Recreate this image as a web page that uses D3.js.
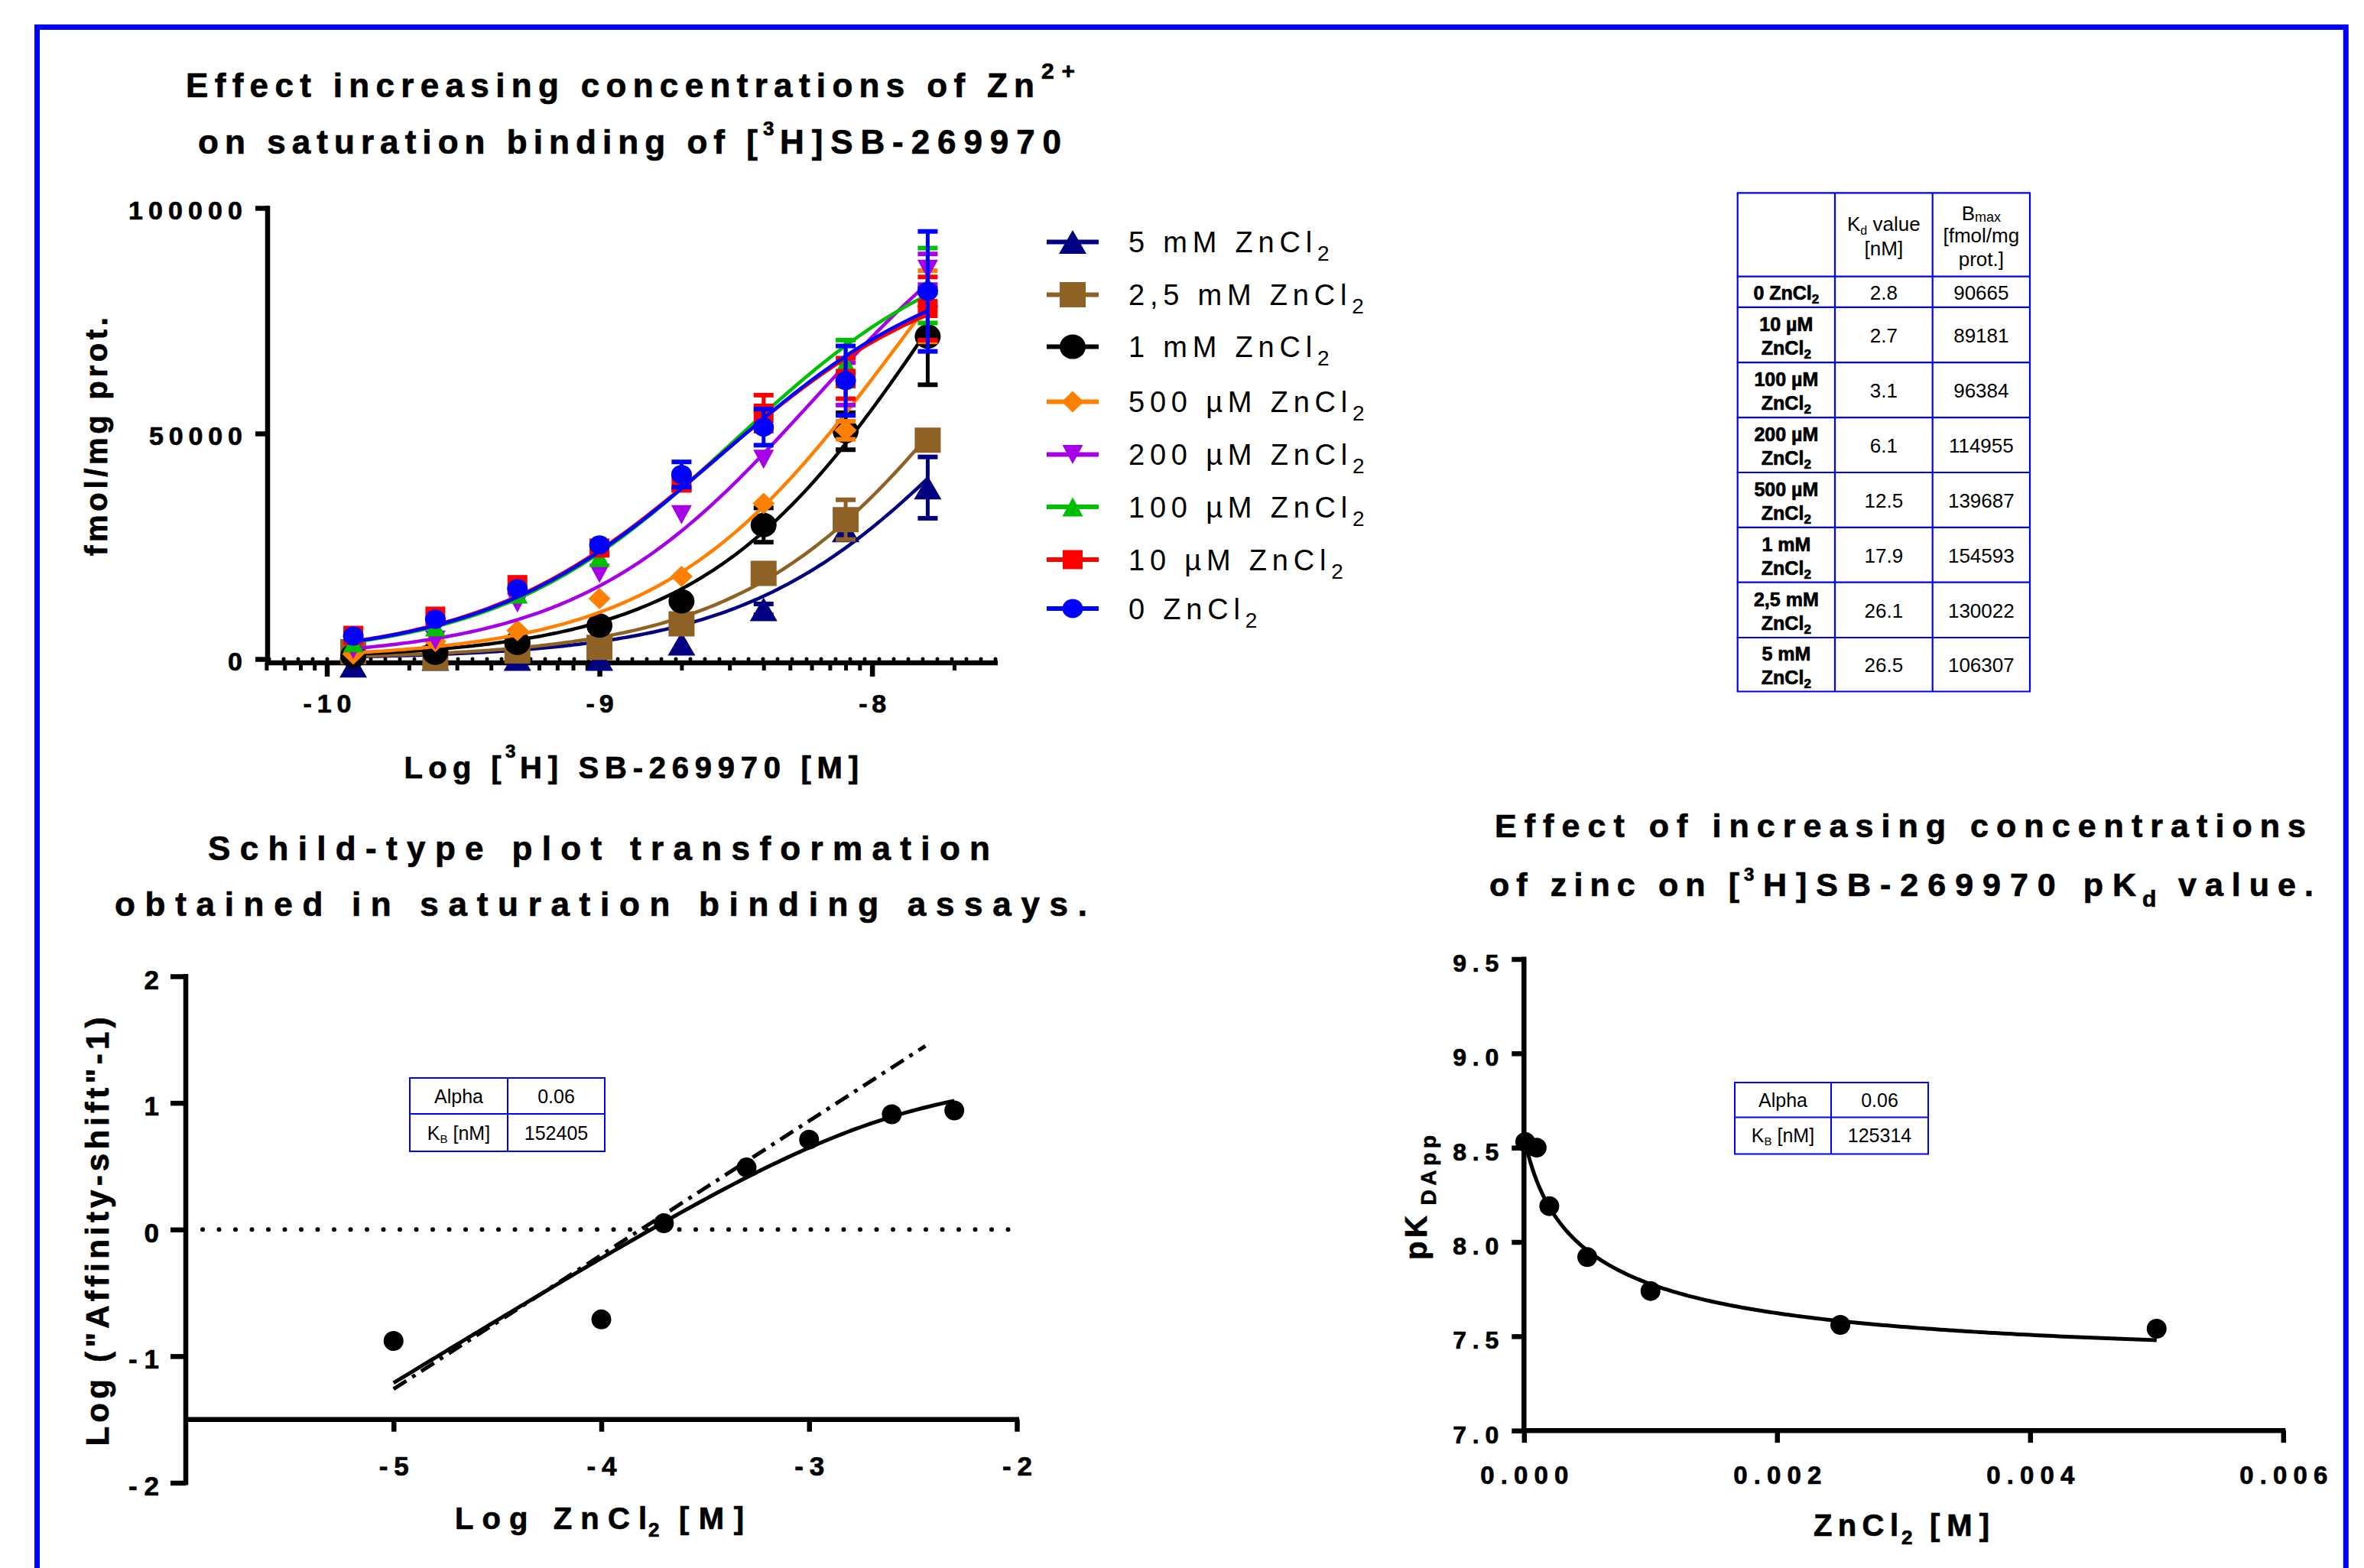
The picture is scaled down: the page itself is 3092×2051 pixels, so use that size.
<!DOCTYPE html>
<html><head><meta charset="utf-8">
<script src="https://cdn.jsdelivr.net/npm/d3@7"></script>
<style>
html,body{margin:0;padding:0;background:#fff;}
svg{display:block;}
text{font-family:"Liberation Sans",Arial,Helvetica,sans-serif;fill:#000;}
text[font-weight="bold"], g[font-weight="bold"] text{stroke:#000;stroke-width:0.7px;}
</style></head><body>
<svg id="chart" width="3092" height="2051"></svg>
<script>
// ================= DATA =================
// Panel 1: saturation binding, x = [3H]SB-269970 concentration (nM)
const ligandNM = [0.125, 0.25, 0.5, 1, 2, 4, 8, 16];
const zn5mM      = [-1500, 0, 0, 0, 3400, 11000, 28500, 38000];
const zn5mMErr   = [0, 0, 0, 0, 0, 1200, 0, 6800];
const zn2p5mM    = [1600, 200, 1800, 2600, 7800, 19000, 30900, 48500];
const zn2p5mMErr = [0, 0, 0, 0, 0, 0, 4400, 0];
const zn1mM      = [700, 1400, 3600, 7400, 12800, 29700, 50500, 71500];
const zn1mMErr   = [0, 0, 0, 0, 0, 3800, 4100, 10700];
const zn500uM    = [1100, 3900, 6300, 13400, 18300, 34500, 50700, 78200];
const zn500uMErr = [0, 0, 0, 0, 0, 0, 2000, 7900];
const zn200uM    = [2100, 4200, 12400, 19000, 32000, 44300, 61000, 86400];
const zn200uMErr = [0, 0, 0, 0, 0, 0, 4700, 3400];
const zn100uM    = [3600, 7100, 14400, 22500, 40000, 54500, 65600, 82800];
const zn100uMErr = [0, 0, 0, 0, 0, 0, 5100, 8300];
const zn10uM     = [5250, 9500, 16500, 24600, 39000, 54500, 62200, 77700];
const zn10uMErr  = [0, 0, 0, 0, 1500, 4000, 4500, 7000];
const zn0        = [5100, 8800, 15600, 25300, 40900, 51400, 61700, 81500];
const zn0Err     = [0, 0, 0, 0, 2800, 4000, 7700, 13300];
const seriesLabels = ["5 mM ZnCl", "2,5 mM ZnCl", "1 mM ZnCl", "500 µM ZnCl", "200 µM ZnCl", "100 µM ZnCl", "10 µM ZnCl", "0 ZnCl"];
const p1YTicks = [0, 50000, 100000];
const p1YTickLabels = ["0", "50000", "100000"];
const p1XTicks = [1e-10, 1e-9, 1e-8];
const p1XTickLabels = ["-10", "-9", "-8"];

// Table (top right)
const tableConc = ["0", "10 µM", "100 µM", "200 µM", "500 µM", "1 mM", "2,5 mM", "5 mM"];
const kdValues = ["2.8", "2.7", "3.1", "6.1", "12.5", "17.9", "26.1", "26.5"];
const bmaxValues = ["90665", "89181", "96384", "114955", "139687", "154593", "130022", "106307"];

// Panel 2: Schild-type plot
const schildConcM = [1e-5, 1e-4, 2e-4, 5e-4, 1e-3, 2.5e-3, 5e-3];
const schildY = [-0.88, -0.71, 0.05, 0.49, 0.71, 0.91, 0.94];
const schildRefX = [-5, -2.44];
const schildRefY = [-1.26, 1.45];
const schildAlpha = "0.06", schildKB = "152405";
const schildXTicks = [-5, -4, -3, -2];
const schildXTickLabels = ["-5", "-4", "-3", "-2"];
const schildYTicks = [-2, -1, 0, 1, 2];
const schildYTickLabels = ["-2", "-1", "0", "1", "2"];

// Panel 3: pKd app vs ZnCl2
const pkConcM = [0.00001, 0.0001, 0.0002, 0.0005, 0.001, 0.0025, 0.005];
const pkY = [8.53, 8.50, 8.19, 7.92, 7.74, 7.56, 7.54];
const pk0 = 8.56;
const pkAlpha = "0.06", pkKB = "125314";
const pkXTicks = [0, 0.002, 0.004, 0.006];
const pkXTickLabels = ["0.000", "0.002", "0.004", "0.006"];
const pkYTicks = [7, 7.5, 8, 8.5, 9, 9.5];
const pkYTickLabels = ["7.0", "7.5", "8.0", "8.5", "9.0", "9.5"];

// ================= STYLES =================
const seriesColors = ["#000080", "#8E6125", "#000000", "#FF8000", "#A600E6", "#00BE00", "#FF0000", "#0000FF"];
const seriesShapes = ["triUp", "square", "circle", "diamond", "triDown", "triUp", "square", "circle"];
const seriesSizes = [[36,31],[34,33],[34,32],[29,28],[27,25],[27,25],[26,25],[27,25]];
const legendRowY = [316.5, 385.6, 453.6, 525.6, 594.5, 663, 732, 796];
const FONT = "'Liberation Sans', Arial, Helvetica, sans-serif";
const BLUE = "#0000FF";
const AXW = 6.5;

const svg = d3.select("#chart");
svg.append("rect").attr("width", 3092).attr("height", 2051).attr("fill", "#fff");
svg.append("rect").attr("x", 48.5).attr("y", 35.5).attr("width", 3019.8).attr("height", 2100)
  .attr("fill", "none").attr("stroke", BLUE).attr("stroke-width", 7);

function label(g, str, x, y, o = {}) {
  const t = g.append("text").attr("x", x).attr("y", y).text(str)
    .attr("font-size", o.size || 40).attr("font-weight", o.bold === false ? "normal" : "bold")
    .attr("text-anchor", o.anchor || "start");
  if (o.len) t.attr("textLength", o.len).attr("lengthAdjust", "spacing");
  if (o.ls) t.attr("letter-spacing", o.ls);
  if (o.rotate) t.attr("transform", `rotate(${o.rotate},${x},${y})`);
  return t;
}
function shapePath(type, w, h) {
  switch (type) {
    case "triUp": return `M0,${-h/2}L${w/2},${h/2}L${-w/2},${h/2}Z`;
    case "triDown": return `M0,${h/2}L${w/2},${-h/2}L${-w/2},${-h/2}Z`;
    case "square": return `M${-w/2},${-h/2}H${w/2}V${h/2}H${-w/2}Z`;
    case "diamond": return `M0,${-h/2}L${w/2},0L0,${h/2}L${-w/2},0Z`;
    default: return `M${-w/2},0A${w/2},${h/2} 0 1,0 ${w/2},0A${w/2},${h/2} 0 1,0 ${-w/2},0Z`;
  }
}
function styleAxis(g, fs) {
  g.attr("font-family", FONT).attr("font-size", fs).attr("font-weight", "bold");
  g.select(".domain").remove();
  g.selectAll(".tick line").attr("stroke", "#000").attr("stroke-width", AXW);
  g.selectAll(".tick text").attr("fill", "#000");
}
function axisLine(g, x1, y1, x2, y2) {
  g.append("line").attr("x1", x1).attr("y1", y1).attr("x2", x2).attr("y2", y2)
    .attr("stroke", "#000").attr("stroke-width", AXW);
}

// ================= PANEL 1 =================
const p1 = svg.append("g");
const x1 = d3.scaleLog().domain([Math.pow(10, -10.2174), Math.pow(10, -7.539)]).range([350, 1305]);
const y1 = d3.scaleLinear().domain([0, 100000]).range([862, 272]);

label(p1, "Effect increasing concentrations of Zn", 243, 127, {size: 44, len: 1110});
label(p1, "2+", 1362, 103, {size: 30, len: 44});
label(p1, "on saturation binding of [", 259, 201, {size: 44, len: 732});
label(p1, "3", 998, 177, {size: 26});
label(p1, "H]SB-269970", 1020, 201, {size: 44, len: 368});

// minor ticks
const minors = [];
for (const p of [-11, -10, -9, -8]) for (let k = 2; k <= 9; k++) {
  const v = k * Math.pow(10, p);
  if (Math.log10(v) >= -10.23 && Math.log10(v) <= -7.539) minors.push(v);
}
const gxm = p1.append("g").attr("transform", "translate(0,867)")
  .call(d3.axisBottom(x1).tickValues(minors).tickSize(10).tickFormat(""));
styleAxis(gxm, 34);
gxm.selectAll(".tick line").attr("stroke-width", 5);
const gx1 = p1.append("g").attr("transform", "translate(0,867)")
  .call(d3.axisBottom(x1).tickValues(p1XTicks).tickSize(18).tickFormat((d, i) => p1XTickLabels[i]));
styleAxis(gx1, 34);
gx1.selectAll(".tick text").attr("y", 65).attr("dy", 0)
  .attr("textLength", (d, i) => i === 0 ? 63 : 36).attr("lengthAdjust", "spacing");
const gy1 = p1.append("g").attr("transform", "translate(350,0)")
  .call(d3.axisLeft(y1).tickValues(p1YTicks).tickSize(16).tickPadding(17).tickFormat((d, i) => p1YTickLabels[i]));
styleAxis(gy1, 34);
gy1.selectAll(".tick text").attr("dy", 14)
  .attr("textLength", (d, i) => [null, 122, 149][i]).attr("lengthAdjust", "spacing");
gy1.selectAll(".tick text").filter((d, i) => i === 0).attr("textLength", null);
axisLine(p1, 350, 269, 350, 870);
axisLine(p1, 347, 867, 1305, 867);
p1.append("line").attr("x1", 352).attr("x2", 1305).attr("y1", y1(0)).attr("y2", y1(0))
  .attr("stroke", "#000").attr("stroke-width", 5).attr("stroke-dasharray", "0 19").attr("stroke-linecap", "round");

label(p1, "fmol/mg prot.", 140, 571, {size: 40, len: 312, anchor: "middle", rotate: -90});
label(p1, "Log [", 528.6, 1018, {size: 40, len: 127});
label(p1, "3", 661, 991, {size: 24});
label(p1, "H] SB-269970  [M]", 680, 1018, {size: 40, len: 443});

const p1Values = [zn5mM, zn2p5mM, zn1mM, zn500uM, zn200uM, zn100uM, zn10uM, zn0];
const p1Errors = [zn5mMErr, zn2p5mMErr, zn1mMErr, zn500uMErr, zn200uMErr, zn100uMErr, zn10uMErr, zn0Err];
const lineGen = d3.line().x(d => x1(d[0] * 1e-9)).y(d => y1(d[1]));
p1Values.forEach((vals, s) => {
  const col = seriesColors[s];
  const kd = +kdValues[7 - s], bmax = +bmaxValues[7 - s];
  const curve = d3.range(0, 141).map(i => {
    const L = ligandNM[0] * Math.pow(ligandNM[7] / ligandNM[0], i / 140);
    return [L, bmax * L / (kd + L)];
  });
  const g = p1.append("g");
  g.append("path").attr("d", lineGen(curve)).attr("fill", "none").attr("stroke", col).attr("stroke-width", 4.5);
  vals.forEach((v, i) => {
    const e = p1Errors[s][i];
    if (e > 0) {
      const cx = x1(ligandNM[i] * 1e-9);
      g.append("line").attr("x1", cx).attr("x2", cx).attr("y1", y1(v - e)).attr("y2", y1(v + e))
        .attr("stroke", col).attr("stroke-width", 5);
      [v - e, v + e].forEach(yv => g.append("line").attr("x1", cx - 13).attr("x2", cx + 13)
        .attr("y1", y1(yv)).attr("y2", y1(yv)).attr("stroke", col).attr("stroke-width", 6));
    }
  });
  g.selectAll("path.m").data(vals).enter().append("path").attr("class", "m")
    .attr("transform", (v, i) => `translate(${x1(ligandNM[i] * 1e-9)},${y1(v)})`)
    .attr("d", shapePath(seriesShapes[s], seriesSizes[s][0], seriesSizes[s][1]))
    .attr("fill", col);
});

// legend
const lg = svg.append("g");
seriesLabels.forEach((lab, s) => {
  const y = legendRowY[s];
  lg.append("line").attr("x1", 1369).attr("x2", 1437).attr("y1", y).attr("y2", y)
    .attr("stroke", seriesColors[s]).attr("stroke-width", 6);
  lg.append("path").attr("transform", `translate(1403,${y})`)
    .attr("d", shapePath(seriesShapes[s], seriesSizes[s][0], seriesSizes[s][1])).attr("fill", seriesColors[s]);
  const t = lg.append("text").attr("x", 1476).attr("y", y + 13.5).attr("font-size", 38)
    .attr("letter-spacing", 6.8);
  t.append("tspan").text(lab);
  t.append("tspan").attr("font-size", 28).attr("dy", 11).text("2");
});

// ================= TABLE (top right) =================
const tb = svg.append("g");
const tCols = [2272.7, 2400, 2527.7, 2655];
const tRows = [252.3, 361.7, 401.9, 474.2, 546.1, 618, 689.8, 761.7, 834, 904.5];
tRows.forEach(y => tb.append("line").attr("x1", tCols[0] - 1).attr("x2", tCols[3] + 1).attr("y1", y).attr("y2", y)
  .attr("stroke", BLUE).attr("stroke-width", 2.2));
tCols.forEach(x => tb.append("line").attr("x1", x).attr("x2", x).attr("y1", tRows[0]).attr("y2", tRows[9])
  .attr("stroke", BLUE).attr("stroke-width", 2.2));
const c1 = (tCols[0] + tCols[1]) / 2, c2 = (tCols[1] + tCols[2]) / 2, c3 = (tCols[2] + tCols[3]) / 2;
{
  const t = tb.append("text").attr("x", c2).attr("y", 302).attr("font-size", 26).attr("text-anchor", "middle");
  t.append("tspan").text("K");
  t.append("tspan").attr("font-size", 16).attr("dy", 5).text("d");
  t.append("tspan").attr("dy", -5).text(" value");
  label(tb, "[nM]", c2, 334, {size: 26, bold: false, anchor: "middle"});
  const b = tb.append("text").attr("x", c3).attr("y", 288).attr("font-size", 26).attr("text-anchor", "middle");
  b.append("tspan").text("B");
  b.append("tspan").attr("font-size", 18).attr("dy", 2).text("max");
  label(tb, "[fmol/mg", c3, 317, {size: 26, bold: false, anchor: "middle"});
  label(tb, "prot.]", c3, 348, {size: 26, bold: false, anchor: "middle"});
}
tableConc.forEach((conc, r) => {
  const cy = (tRows[r + 1] + tRows[r + 2]) / 2;
  if (r === 0) {
    const t = tb.append("text").attr("x", c1).attr("y", cy + 9.7).attr("font-size", 25)
      .attr("font-weight", "bold").attr("text-anchor", "middle");
    t.append("tspan").text(conc + " ZnCl");
    t.append("tspan").attr("font-size", 17).attr("dy", 5).text("2");
  } else {
    label(tb, conc, c1, cy - 5, {size: 25, anchor: "middle"});
    const t = tb.append("text").attr("x", c1).attr("y", cy + 26).attr("font-size", 25)
      .attr("font-weight", "bold").attr("text-anchor", "middle");
    t.append("tspan").text("ZnCl");
    t.append("tspan").attr("font-size", 17).attr("dy", 5).text("2");
  }
  label(tb, kdValues[r], c2, cy + 10, {size: 26, bold: false, anchor: "middle"});
  label(tb, bmaxValues[r], c3, cy + 10, {size: 26, bold: false, anchor: "middle"});
});

// inset table helper
function insetTable(g, cols, rows, alpha, kb) {
  rows.forEach(y => g.append("line").attr("x1", cols[0] - 1).attr("x2", cols[2] + 1).attr("y1", y).attr("y2", y)
    .attr("stroke", BLUE).attr("stroke-width", 2));
  cols.forEach(x => g.append("line").attr("x1", x).attr("x2", x).attr("y1", rows[0]).attr("y2", rows[2])
    .attr("stroke", BLUE).attr("stroke-width", 2));
  const a = (cols[0] + cols[1]) / 2, b = (cols[1] + cols[2]) / 2;
  const r0 = (rows[0] + rows[1]) / 2 + 9, r1 = (rows[1] + rows[2]) / 2 + 9;
  label(g, "Alpha", a, r0, {size: 25, bold: false, anchor: "middle"});
  label(g, alpha, b, r0, {size: 25, bold: false, anchor: "middle"});
  const t = g.append("text").attr("x", a).attr("y", r1).attr("font-size", 25).attr("text-anchor", "middle");
  t.append("tspan").text("K");
  t.append("tspan").attr("font-size", 15).attr("dy", 4).text("B");
  t.append("tspan").attr("dy", -4).text(" [nM]");
  label(g, kb, b, r1, {size: 25, bold: false, anchor: "middle"});
}

// ================= PANEL 2: Schild =================
const p2 = svg.append("g");
const xs = d3.scaleLinear().domain([-6, -2]).range([243, 1330]);
const ys = d3.scaleLinear().domain([-2, 2]).range([1939.5, 1277]);
label(p2, "Schild-type plot transformation", 272, 1125, {size: 44, len: 1023});
label(p2, "obtained in saturation binding assays.", 150, 1198, {size: 44, len: 1272});
const gx2 = p2.append("g").attr("transform", `translate(0,${ys(-1.5)})`)
  .call(d3.axisBottom(xs).tickValues(schildXTicks).tickSize(16).tickFormat((d, i) => schildXTickLabels[i]));
styleAxis(gx2, 35);
gx2.selectAll(".tick text").attr("y", 1930 - ys(-1.5)).attr("dy", 0).attr("textLength", 39).attr("lengthAdjust", "spacing");
const gy2 = p2.append("g").attr("transform", "translate(243,0)")
  .call(d3.axisLeft(ys).tickValues(schildYTicks).tickSize(20).tickPadding(15).tickFormat((d, i) => schildYTickLabels[i]));
styleAxis(gy2, 35);
gy2.selectAll(".tick text").attr("dy", 16);
gy2.selectAll(".tick text").filter(d => d < 0).attr("textLength", 40).attr("lengthAdjust", "spacing");
axisLine(p2, 243, 1274, 243, 1942.5);
axisLine(p2, 240, ys(-1.5), 1333, ys(-1.5));
p2.append("line").attr("x1", 265).attr("x2", 1330).attr("y1", ys(0)).attr("y2", ys(0))
  .attr("stroke", "#000").attr("stroke-width", 6).attr("stroke-dasharray", "0 21.5").attr("stroke-linecap", "round");
label(p2, 'Log ("Affinity-shift"-1)', 142, 1611, {size: 42, len: 561, anchor: "middle", rotate: -90});
label(p2, "Log ZnCl", 595, 2000, {size: 40, len: 251});
label(p2, "2", 848, 2010, {size: 26});
label(p2, "[M]", 888, 2000, {size: 40, len: 85});
// reference (dash-dot) line
p2.append("path").attr("d", d3.line().x(d => xs(d[0])).y(d => ys(d[1]))(schildRefX.map((x, i) => [x, schildRefY[i]])))
  .attr("fill", "none").attr("stroke", "#000").attr("stroke-width", 5).attr("stroke-dasharray", "20 9 5 9");
// fitted curve (allosteric model using inset alpha and KB)
{
  const a = +schildAlpha, kbM = +schildKB * 1e-9;
  const pts = d3.range(0, 121).map(i => {
    const lx = -5 + (Math.log10(5e-3) + 5) * i / 120, B = Math.pow(10, lx);
    return [lx, Math.log10((B / kbM) * (1 - a) / (1 + a * B / kbM))];
  });
  p2.append("path").attr("d", d3.line().x(d => xs(d[0])).y(d => ys(d[1]))(pts))
    .attr("fill", "none").attr("stroke", "#000").attr("stroke-width", 5);
}
p2.selectAll("circle.pt").data(schildConcM).enter().append("circle").attr("class", "pt")
  .attr("cx", d => xs(Math.log10(d))).attr("cy", (d, i) => ys(schildY[i])).attr("r", 13).attr("fill", "#000");
insetTable(p2.append("g"), [536, 664, 791], [1410, 1457, 1506], schildAlpha, schildKB);

// ================= PANEL 3: pKd app =================
const p3 = svg.append("g");
const xp = d3.scaleLinear().domain([0, 0.006]).range([1993.3, 2986.3]);
const yp = d3.scaleLinear().domain([7, 9.5]).range([1871.2, 1254.5]);
label(p3, "Effect of increasing concentrations", 1955, 1095, {size: 43, len: 1061});
label(p3, "of zinc on [", 1948, 1172, {size: 43, len: 327});
label(p3, "3", 2281, 1152, {size: 24});
label(p3, "H]SB-269970 pK", 2306, 1172, {size: 43, len: 488});
label(p3, "d", 2802, 1186, {size: 30});
label(p3, "value.", 2849, 1172, {size: 43, len: 177});
const gx3 = p3.append("g").attr("transform", `translate(0,${yp(7)})`)
  .call(d3.axisBottom(xp).tickValues(pkXTicks).tickSize(16).tickFormat((d, i) => pkXTickLabels[i]));
styleAxis(gx3, 33);
gx3.selectAll(".tick text").attr("y", 1941 - yp(7)).attr("dy", 0).attr("textLength", 115).attr("lengthAdjust", "spacing");
const gy3 = p3.append("g").attr("transform", `translate(${xp(0)},0)`)
  .call(d3.axisLeft(yp).tickValues(pkYTicks).tickSize(16).tickPadding(17).tickFormat((d, i) => pkYTickLabels[i]));
styleAxis(gy3, 32);
gy3.selectAll(".tick text").attr("dy", 16).attr("textLength", 60).attr("lengthAdjust", "spacing");
axisLine(p3, xp(0), 1251.5, xp(0), yp(7) + 3);
axisLine(p3, xp(0) - 3, yp(7), 2989.3, yp(7));
{
  const g = p3.append("g").attr("transform", "translate(1866,1648) rotate(-90)");
  g.append("text").attr("x", 0).attr("y", 0).attr("font-size", 40).attr("font-weight", "bold")
    .attr("textLength", 58).attr("lengthAdjust", "spacing").text("pK");
  g.append("text").attr("x", 71.5).attr("y", 12).attr("font-size", 28).attr("font-weight", "bold")
    .attr("textLength", 91.5).attr("lengthAdjust", "spacing").text("DApp");
}
label(p3, "ZnCl", 2372, 2009, {size: 40, len: 111});
label(p3, "2", 2487, 2020, {size: 26});
label(p3, "[M]", 2524, 2009, {size: 40, len: 78});
{
  const a = +pkAlpha, kbM = +pkKB * 1e-9;
  const pts = d3.range(0, 201).map(i => {
    const B = 0.005 * Math.pow(i / 200, 1.6);
    return [B, pk0 - Math.log10((1 + B / kbM) / (1 + a * B / kbM))];
  });
  p3.append("path").attr("d", d3.line().x(d => xp(d[0])).y(d => yp(d[1]))(pts))
    .attr("fill", "none").attr("stroke", "#000").attr("stroke-width", 5);
}
p3.selectAll("circle.pt").data(pkConcM).enter().append("circle").attr("class", "pt")
  .attr("cx", d => xp(d)).attr("cy", (d, i) => yp(pkY[i])).attr("r", 13).attr("fill", "#000");
insetTable(p3.append("g"), [2269, 2395, 2522], [1416, 1461.4, 1509.5], pkAlpha, pkKB);
</script>
</body></html>
